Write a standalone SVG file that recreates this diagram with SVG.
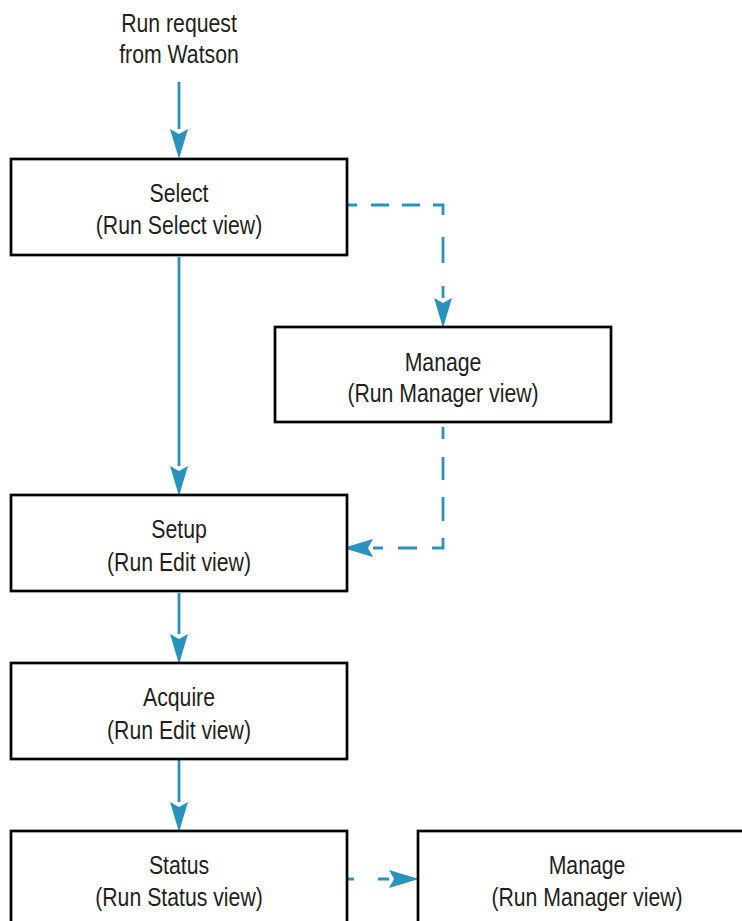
<svg xmlns="http://www.w3.org/2000/svg" width="742" height="921" viewBox="0 0 742 921">
<style>
.box{fill:#fff;stroke:#000;stroke-width:2.7}
.t{font-family:"Liberation Sans",Arial,sans-serif;font-size:25px;fill:#231f20;text-anchor:middle}
.c{fill:none;stroke:#2a93bd;stroke-width:2.8;marker-end:url(#ah)}
</style>
<defs>
<marker id="ah" markerUnits="userSpaceOnUse" markerWidth="40" markerHeight="30" refX="0" refY="0" viewBox="0 -15 40 30" orient="auto" overflow="visible">
<path d="M0,-9 L30,0 L0,9 L5,0 Z" fill="#2a93bd"/>
</marker>
</defs>
<rect width="742" height="921" fill="#fff"/>
<g id="connectors">
<path class="c" d="M179 82 V129"/>
<path class="c" d="M179 257 V466"/>
<path class="c" d="M179 593 V634"/>
<path class="c" d="M179 756 V802"/>
<path class="c" d="M347 205 H357 M371 205 H389 M402 205 H420 M433 205 H443 V215 M443 237 V263 M443 286 V298"/>
<path class="c" d="M443 427 V439 M443 457 V480 M443 497 V521 M443 538 V548 H432 M417 548 H398 M383 548 H373"/>
<path class="c" d="M347 879 H354 M378 879 H389"/>
</g>
<g id="start">
<text class="t" transform="translate(179 32) scale(0.85 1)">Run request</text>
<text class="t" transform="translate(179 63) scale(0.85 1)">from Watson</text>
</g>
<g id="select">
<rect class="box" x="11" y="159" width="336" height="96"/>
<text class="t" transform="translate(179 202) scale(0.85 1)">Select</text>
<text class="t" transform="translate(179 234) scale(0.85 1)">(Run Select view)</text>
</g>
<g id="manage1">
<rect class="box" x="275" y="327" width="336" height="95"/>
<text class="t" transform="translate(443 371) scale(0.85 1)">Manage</text>
<text class="t" transform="translate(443 402) scale(0.85 1)">(Run Manager view)</text>
</g>
<g id="setup">
<rect class="box" x="11" y="495" width="336" height="96"/>
<text class="t" transform="translate(179 538) scale(0.85 1)">Setup</text>
<text class="t" transform="translate(179 571) scale(0.85 1)">(Run Edit view)</text>
</g>
<g id="acquire">
<rect class="box" x="11" y="663" width="336" height="96"/>
<text class="t" transform="translate(179 706) scale(0.85 1)">Acquire</text>
<text class="t" transform="translate(179 739) scale(0.85 1)">(Run Edit view)</text>
</g>
<g id="status">
<rect class="box" x="11" y="831" width="336" height="100"/>
<text class="t" transform="translate(179 874) scale(0.85 1)">Status</text>
<text class="t" transform="translate(179 906) scale(0.85 1)">(Run Status view)</text>
</g>
<g id="manage2">
<rect class="box" x="418" y="831" width="340" height="100"/>
<text class="t" transform="translate(587 874) scale(0.85 1)">Manage</text>
<text class="t" transform="translate(587 906) scale(0.85 1)">(Run Manager view)</text>
</g>
</svg>
